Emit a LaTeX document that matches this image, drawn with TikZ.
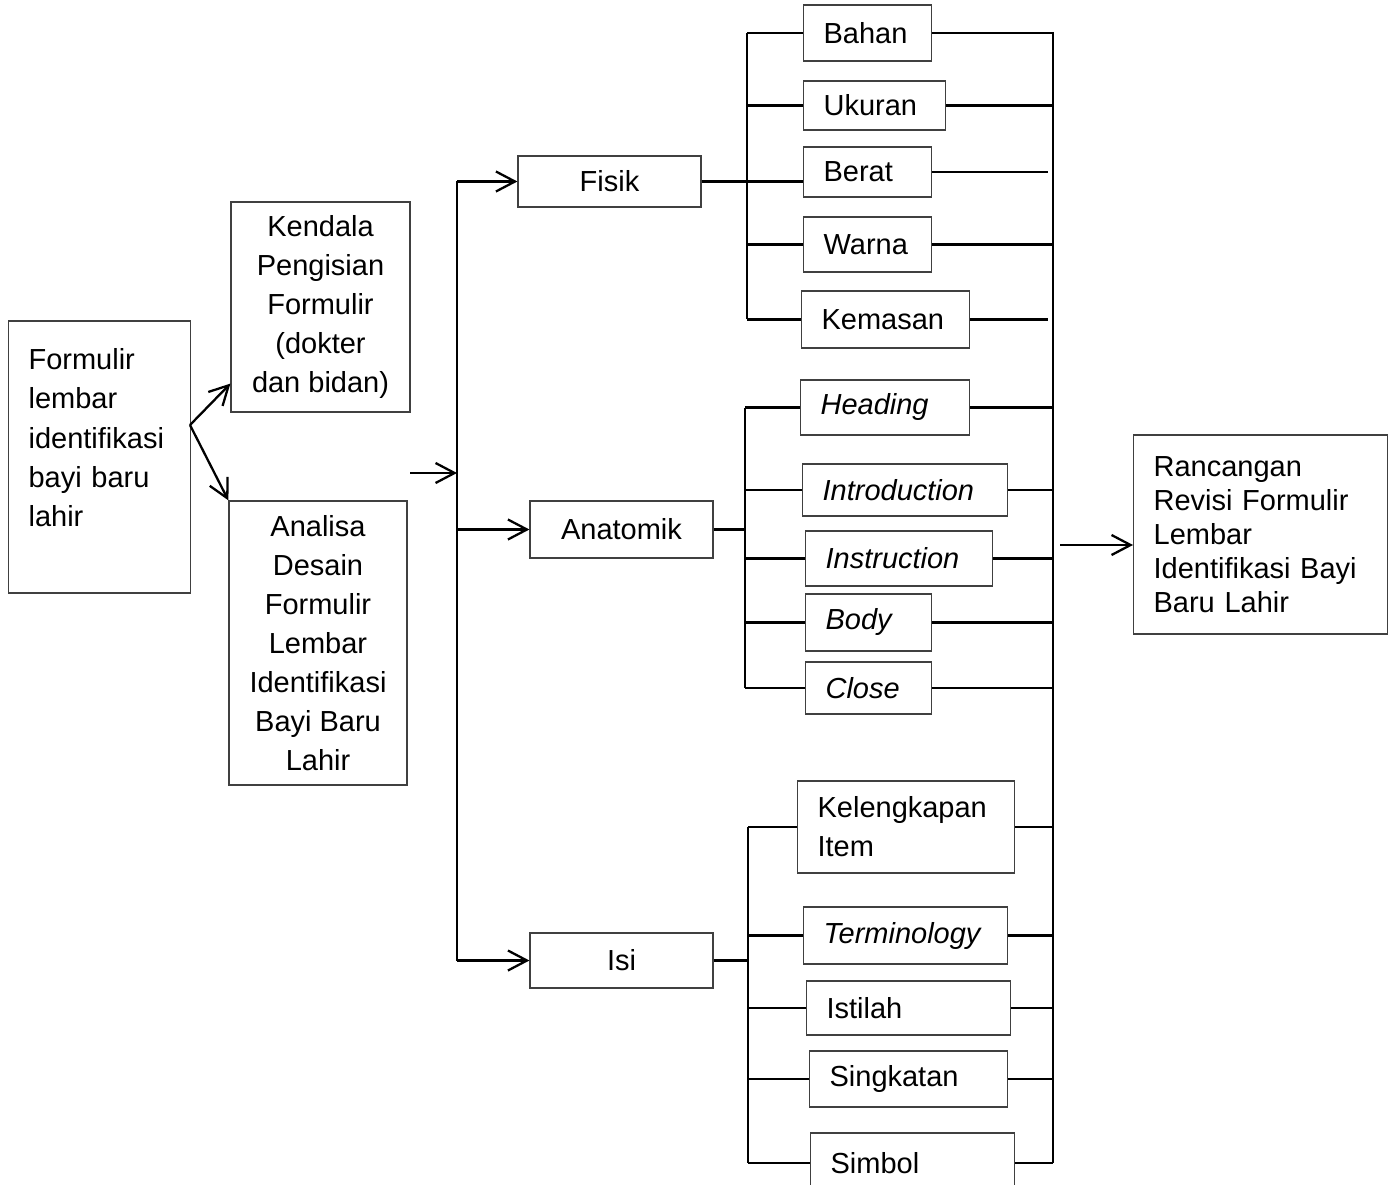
\documentclass[tikz,border=0pt]{standalone}
\usepackage{fontspec}
\setmainfont{Liberation Sans}
\usetikzlibrary{arrows.meta}

\begin{document}
\begin{tikzpicture}[x=0.02cm, y=-0.02cm, b/.style={draw=black!75, line width=.7pt, inner sep=0pt, font=\fontsize{16.5}{22.2}\selectfont}, t/.style={b, anchor=west, inner xsep=.4cm, align=left}, s/.style={line width=1.3pt}, a/.style={s, -{Straight Barb[length=.38cm, width=.4cm]}}]
		\useasboundingbox (0,0) rectangle (1391,1185);

		\node[t, text width=2.84cm, minimum height=5.44cm] (form) at (8,457) {Formulir\\lembar\\identifikasi\\bayi baru\\lahir\\~};
		\node[b, align=center, minimum width=3.58cm, minimum height=4.2cm] (kendala) at (320.5,307) {Kendala\\Pengisian\\Formulir\\(dokter\\dan bidan)};
		\node[b, align=center, minimum width=3.56cm, minimum height=5.68cm] (analisa) at (318,643) {Analisa\\Desain\\Formulir\\Lembar\\Identifikasi\\Bayi Baru\\Lahir};

		\node[b, minimum width=3.66cm, minimum height=1.02cm] (fisik) at (609.5,181.5) {Fisik};
		\node[b, minimum width=3.66cm, minimum height=1.14cm] (anatomik) at (621.5,529.5) {Anatomik};
		\node[b, minimum width=3.66cm, minimum height=1.1cm] (isi) at (621.5,960.5) {Isi};

		\node[t, text width=1.76cm, minimum height=1.12cm] (bahan) at (803,33) {Bahan};
		\node[t, text width=2.04cm, minimum height=.98cm] (ukuran) at (803,105.5) {Ukuran};
		\node[t, text width=1.76cm, minimum height=1cm] (berat) at (803,172) {Berat};
		\node[t, text width=1.76cm, minimum height=1.1cm] (warna) at (803,244.5) {Warna};
		\node[t, text width=2.56cm, minimum height=1.14cm] (kemasan) at (801,319.5) {Kemasan};

		\node[t, text width=2.58cm, minimum height=1.1cm] (heading) at (800,407.5) {\itshape Heading};
		\node[t, text width=3.3cm, minimum height=1.04cm] (intro) at (802,490) {\itshape Introduction};
		\node[t, text width=2.94cm, minimum height=1.1cm] (instr) at (805,558.5) {\itshape Instruction};
		\node[t, text width=1.72cm, minimum height=1.14cm] (body) at (805,622.5) {\itshape Body};
		\node[t, text width=1.72cm, minimum height=1.04cm] (close) at (805,688) {\itshape Close};

		\node[t, text width=3.54cm, minimum height=1.84cm] (lengkap) at (797,827) {Kelengkapan\\Item};
		\node[t, text width=3.28cm, minimum height=1.14cm] (termin) at (803,935.5) {\itshape Terminology};
		\node[t, text width=3.28cm, minimum height=1.08cm] (istilah) at (806,1008) {Istilah};
		\node[t, text width=3.16cm, minimum height=1.12cm] (singkat) at (809,1079) {Singkatan};
		\node[t, text width=3.28cm, minimum height=1.2cm] (simbol) at (810,1163) {Simbol};

		\node[t, text width=4.28cm, minimum height=3.98cm, font=\fontsize{16.5}{19.3}\selectfont] (rancang) at (1133,534.5) {Rancangan\\Revisi Formulir\\Lembar\\Identifikasi Bayi\\Baru Lahir};

		\coordinate (split) at (190,425);
		\coordinate (in) at (410,473);
		\coordinate (m) at (457,473);
		\coordinate (f) at (747,33);
		\coordinate (n) at (745,402);
		\coordinate (i) at (748,817);
		\coordinate (r) at (1053,32);
		\coordinate (out) at (1060,545);

		\draw[a] (split) -- ([yshift=.58cm]kendala.south west);
		\draw[a] (split) -- (analisa.north west);
		\draw[a] (in) -- (m);
		\draw[s] (fisik.west -| m) -- (isi.west -| m);
		\draw[a] (fisik.west -| m) -- (fisik);
		\draw[a] (anatomik.west -| m) -- (anatomik);
		\draw[a] (isi.west -| m) -- (isi);

		\draw[s] (f) -- (kemasan.west -| f);
		\draw[s] (fisik.east) -- (fisik.east -| berat.west);
		\draw[s] (f) -- (bahan);
		\draw[s] (ukuran.west -| f) -- (ukuran);
		\draw[s] (warna.west -| f) -- (warna);
		\draw[s] (kemasan.west -| f) -- (kemasan);

		\draw[s] (anatomik.east) -- (anatomik.east -| n);
		\draw[s] (heading.west -| n) -- (close.west -| n);
		\draw[s] (heading.west -| n) -- (heading);
		\draw[s] (intro.west -| n) -- (intro);
		\draw[s] (instr.west -| n) -- (instr);
		\draw[s] (body.west -| n) -- (body);
		\draw[s] (close.west -| n) -- (close);

		\draw[s] (isi.east) -- (isi.east -| i);
		\draw[s] (lengkap.west -| i) -- (simbol.west -| i);
		\draw[s] (lengkap.west -| i) -- (lengkap);
		\draw[s] (termin.west -| i) -- (termin);
		\draw[s] (istilah.west -| i) -- (istilah);
		\draw[s] (singkat.west -| i) -- (singkat);
		\draw[s] (simbol.west -| i) -- (simbol);

		\draw[s] (r) -- (simbol.east -| r);
		\draw[s] (bahan.east) -- (bahan.east -| r);
		\draw[s] (ukuran.east) -- (ukuran.east -| r);
		\draw[s, shorten >=.1cm] (berat.east) -- (berat.east -| r);
		\draw[s] (warna.east) -- (warna.east -| r);
		\draw[s, shorten >=.1cm] (kemasan.east) -- (kemasan.east -| r);
		\draw[s] (heading.east) -- (heading.east -| r);
		\draw[s] (intro.east) -- (intro.east -| r);
		\draw[s] (instr.east) -- (instr.east -| r);
		\draw[s] (body.east) -- (body.east -| r);
		\draw[s] (close.east) -- (close.east -| r);
		\draw[s] (lengkap.east) -- (lengkap.east -| r);
		\draw[s] (termin.east) -- (termin.east -| r);
		\draw[s] (istilah.east) -- (istilah.east -| r);
		\draw[s] (singkat.east) -- (singkat.east -| r);
		\draw[s] (simbol.east) -- (simbol.east -| r);
		\draw[a] (out) -- (out -| rancang.west);
	\end{tikzpicture}
\end{document}
